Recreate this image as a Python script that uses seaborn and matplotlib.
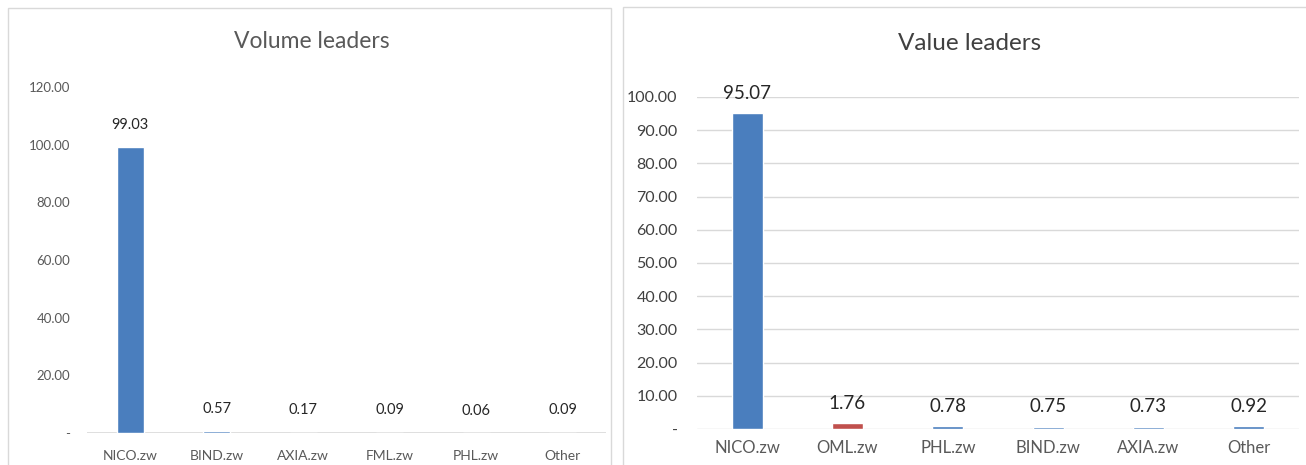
import matplotlib
matplotlib.use("Agg")
import matplotlib.pyplot as plt
import seaborn as sns
import pandas as pd
from matplotlib.patches import Rectangle
from matplotlib.ticker import FixedLocator, FuncFormatter

# ---- data ----
vol_categories = ["NICO.zw", "BIND.zw", "AXIA.zw", "FML.zw", "PHL.zw", "Other"]
vol_values = [99.03, 0.57, 0.17, 0.09, 0.06, 0.09]
vol_ticks = [0, 20, 40, 60, 80, 100, 120]

val_categories = ["NICO.zw", "OML.zw", "PHL.zw", "BIND.zw", "AXIA.zw", "Other"]
val_values = [95.07, 1.76, 0.78, 0.75, 0.73, 0.92]
val_ticks = [0, 10, 20, 30, 40, 50, 60, 70, 80, 90, 100]

BLUE = "#4a7ebe"
RED = "#c0504d"

sns.set_theme(style="white")
plt.rcParams["font.family"] = ["Lato", "DejaVu Sans"]

W, H = 1306, 465
fig = plt.figure(figsize=(W / 100, H / 100), dpi=100)
fig.patch.set_facecolor("white")


def px_axes(x0, x1, ytop, ybot):
    return fig.add_axes([x0 / W, 1 - ybot / H, (x1 - x0) / W, (ybot - ytop) / H])


def tick_fmt(v, pos):
    return "-" if v == 0 else f"{v:.2f}"


# panel frames
fig.add_artist(Rectangle((8 / W, -0.05), (611 - 8) / W, 1.05 - 8 / H,
                         transform=fig.transFigure, fill=False,
                         edgecolor="#d9d9d9", linewidth=1.0))
fig.add_artist(Rectangle((623 / W, -0.05), (1310 - 623) / W, 1.05 - 7 / H,
                         transform=fig.transFigure, fill=False,
                         edgecolor="#d9d9d9", linewidth=1.0))

# ---- left: Volume leaders ----
ax1 = px_axes(87, 606, 87, 433)
df1 = pd.DataFrame({"cat": vol_categories, "val": vol_values})
pal1 = {c: BLUE for c in vol_categories}
sns.barplot(data=df1, x="cat", y="val", hue="cat", palette=pal1, legend=False,
            width=0.31, saturation=1, ax=ax1)
ax1.set_ylim(0, 120)
ax1.yaxis.set_major_locator(FixedLocator(vol_ticks))
ax1.yaxis.set_major_formatter(FuncFormatter(tick_fmt))
for c in ax1.containers:
    ax1.bar_label(c, labels=[f"{v:.2f}" for v in c.datavalues], padding=11,
                  fontsize=10.5, color="#262626")
ax1.set_xlabel("")
ax1.set_ylabel("")
for s in ax1.spines.values():
    s.set_visible(False)
ax1.axhline(0, color="#d9d9d9", linewidth=1.2, zorder=0)
ax1.tick_params(axis="y", labelsize=9.5, labelcolor="#595959", length=0, pad=12)
ax1.tick_params(axis="x", labelsize=10, labelcolor="#595959", length=0, pad=12)
ax1.set_facecolor("none")
fig.text(312 / W, 1 - 42 / H, "Volume leaders", ha="center", va="center",
         fontsize=16.5, color="#595959")

# ---- right: Value leaders ----
ax2 = px_axes(697, 1299, 97, 429)
df2 = pd.DataFrame({"cat": val_categories, "val": val_values})
pal2 = {c: BLUE for c in val_categories}
pal2["OML.zw"] = RED
sns.barplot(data=df2, x="cat", y="val", hue="cat", palette=pal2, legend=False,
            width=0.31, saturation=1, ax=ax2)
ax2.set_ylim(0, 100)
ax2.yaxis.set_major_locator(FixedLocator(val_ticks))
ax2.yaxis.set_major_formatter(FuncFormatter(tick_fmt))
ax2.grid(axis="y", color="#d9d9d9", linewidth=1.0)
ax2.set_axisbelow(True)
for c in ax2.containers:
    ax2.bar_label(c, labels=[f"{v:.2f}" for v in c.datavalues], padding=8,
                  fontsize=13.5, color="#262626")
ax2.set_xlabel("")
ax2.set_ylabel("")
for s in ax2.spines.values():
    s.set_visible(False)
ax2.tick_params(axis="y", labelsize=11.5, labelcolor="#404040", length=0, pad=14)
ax2.tick_params(axis="x", labelsize=12, labelcolor="#595959", length=0, pad=8)
ax2.set_facecolor("none")
fig.text(970 / W, 1 - 44 / H, "Value leaders", ha="center", va="center",
         fontsize=17.5, color="#404040")

fig.savefig("out.png", dpi=100, facecolor="white")
